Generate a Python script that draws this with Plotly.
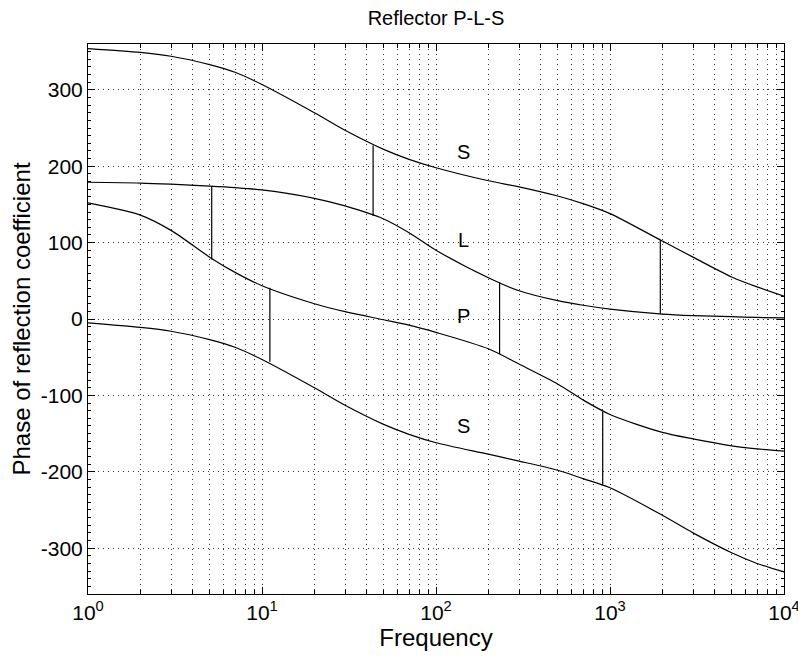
import math

import plotly.graph_objects as go

# frequencies (log axis) and phase readings of each curve, in degrees
freq = [1, 2, 3, 5, 7, 10, 20, 30, 50, 70, 100, 200, 300, 500, 700,
        1000, 2000, 3000, 5000, 7000, 10000]
s_upper = [354, 349, 344, 333, 323, 307, 270, 247, 222, 209, 198, 181, 173, 161, 151,
           138, 102, 81, 55, 42, 30]
l_curve = [179, 178, 176.5, 174, 172, 169, 158, 148, 131, 113, 90, 54, 37, 24, 18,
           13, 6.5, 4.5, 3, 2, 1.5]
p_curve = [152, 136, 116, 81, 61, 43.5, 20, 9.6, -1, -8, -17.5, -39, -59, -85, -106,
           -125, -148.5, -157, -166, -170, -173]
s_lower = [-5, -11, -16, -27, -37, -53, -90, -113, -138, -151, -162, -177, -186, -198, -209,
           -221, -257, -280, -306, -320, -331]

# vertical connectors between curves
conn_f = [5.14, 11.1, 43.5, 232, 908, 1946]
conn_hi = [174, 41, 227, 47.5, -121, 103]
conn_lo = [78, -56, 135, -46, -216, 7]

# curve labels
label_text = ["S", "L", "P", "S"]
label_f = [144, 144, 144, 144]
label_v = [218, 103, 4, -140]

decades = [1, 10, 100, 1000, 10000]
x_ticktext = ["10<sup>0</sup>", "10<sup>1</sup>", "10<sup>2</sup>", "10<sup>3</sup>", "10<sup>4</sup>"]
x_minor = [m * d for d in decades[:-1] for m in range(2, 10)]
y_ticks = [-300, -200, -100, 0, 100, 200, 300]
y_ticktext = ["-300", "-200", "-100", "0", "100", "200", "300"]

FONT = "Liberation Sans, Arial, sans-serif"
line = dict(color="black", width=1.2)

fig = go.Figure()
for ys in (s_upper, l_curve, p_curve, s_lower):
    fig.add_scatter(x=freq, y=ys, mode="lines",
                    line=dict(line, shape="spline", smoothing=0.8),
                    showlegend=False, hoverinfo="skip")

cx, cy = [], []
for f, hi, lo in zip(conn_f, conn_hi, conn_lo):
    cx += [f, f, None]
    cy += [hi, lo, None]
fig.add_scatter(x=cx, y=cy, mode="lines", line=line, showlegend=False, hoverinfo="skip")

# annotation x on a log axis is given as log10
for t, f, v in zip(label_text, label_f, label_v):
    fig.add_annotation(x=math.log10(f), y=v, xref="x", yref="y", text=t, showarrow=False,
                       font=dict(size=20, color="black"))

grid = dict(showgrid=True, gridcolor="#333", griddash="1px,4px", gridwidth=1)
# page body adds 8px, so the figure is 798x656
fig.update_layout(
    width=798, height=656,
    margin=dict(l=80, r=22, t=36, b=70),
    paper_bgcolor="white", plot_bgcolor="white",
    font=dict(family=FONT, size=20, color="black"),
    title=dict(text="Reflector P-L-S", x=(80 + 348) / 798, xanchor="center",
               y=1 - 10 / 656, yanchor="middle", yref="container",
               font=dict(size=20)),
    xaxis=dict(
        type="log", range=[0, 4], automargin=False,
        tickmode="array", tickvals=decades, ticktext=x_ticktext,
        tickfont=dict(size=21),
        ticks="inside", ticklen=7, tickcolor="black",
        showline=True, linecolor="black", linewidth=1, mirror="ticks",
        zeroline=False, **grid,
        minor=dict(tickmode="array", tickvals=x_minor, ticks="inside", ticklen=4,
                   tickcolor="black", **grid),
        title=dict(text="Frequency", standoff=4),
    ),
    yaxis=dict(
        range=[-360, 360], automargin=False,
        tickmode="array", tickvals=y_ticks, ticktext=y_ticktext,
        tickfont=dict(size=21),
        ticks="inside", ticklen=7, tickcolor="black",
        showline=True, linecolor="black", linewidth=1, mirror="ticks",
        zeroline=False, **grid,
        minor=dict(dtick=10, tick0=0, ticks="inside", ticklen=3, tickcolor="black",
                   showgrid=False),
        title=dict(text="Phase of reflection coefficient", standoff=6),
    ),
)

fig.write_html("out.html")
